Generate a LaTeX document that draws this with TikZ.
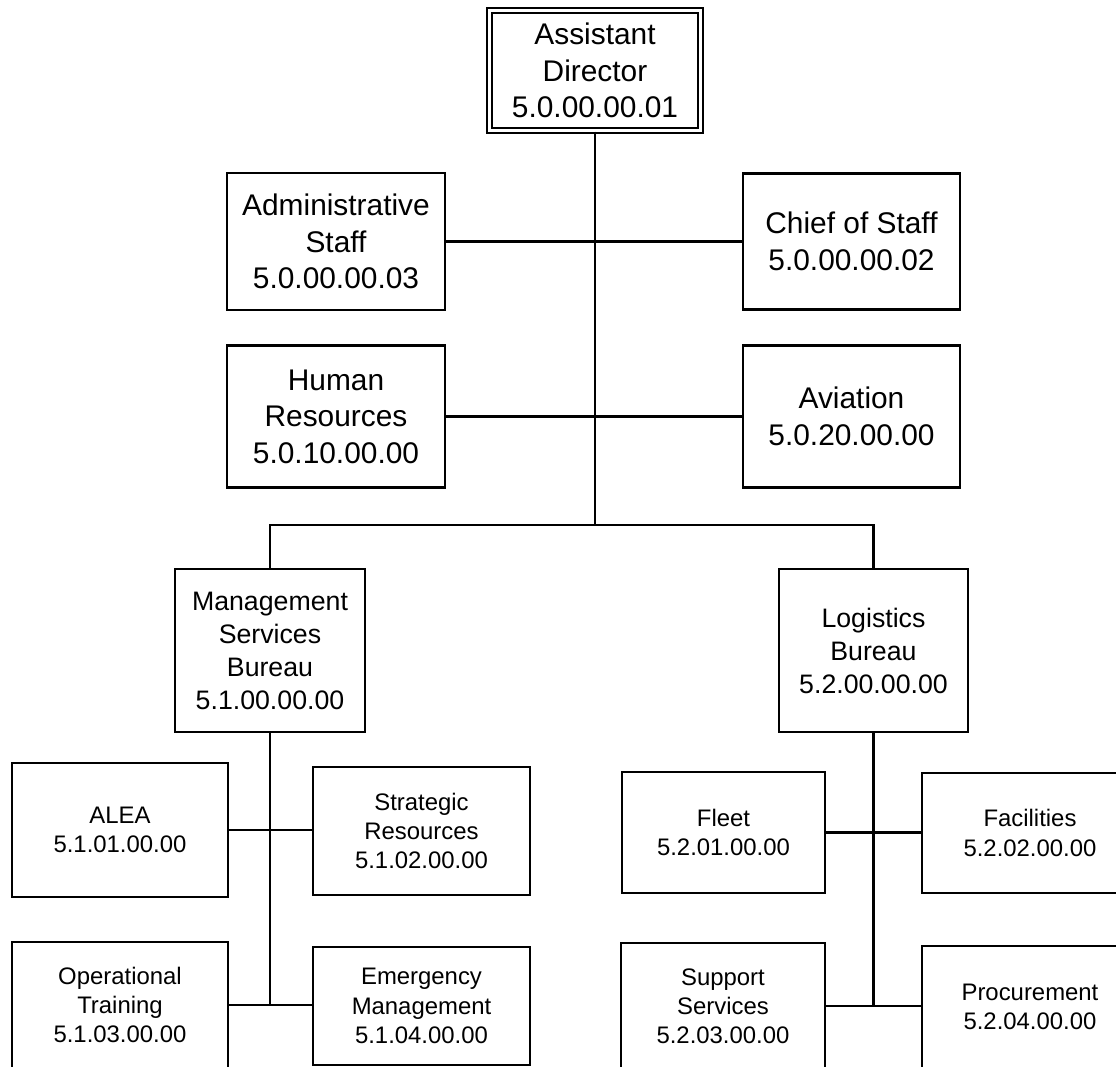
\documentclass[tikz,border=0pt]{standalone}
\usepackage{fontspec}
\setmainfont{Liberation Sans}
\tikzset{
  orgunit/.style={draw, line width=0.6pt, align=center, inner sep=0pt},
  toplevel/.style={orgunit, font=\fontsize{8.5}{10.4}\selectfont},
  bureau/.style={orgunit, font=\fontsize{7.6}{9.4}\selectfont},
  office/.style={orgunit, font=\fontsize{6.8}{8.3}\selectfont},
}
\begin{document}
\begin{tikzpicture}[y=-1cm, line width=0.6pt]
\clip (0,0) rectangle (11.16,10.67);
% top
\node[toplevel, double, double distance=0.85pt, minimum width=2.11cm, minimum height=1.20cm] (ad) at (5.95,.705) {Assistant\\Director\\5.0.00.00.01};
\node[toplevel, minimum width=2.18cm, minimum height=1.37cm] (admin) at (3.36,2.415) {Administrative\\Staff\\5.0.00.00.03};
\node[toplevel, minimum width=2.17cm, minimum height=1.36cm] (chief) at (8.515,2.415) {Chief of Staff\\5.0.00.00.02};
\node[toplevel, minimum width=2.18cm, minimum height=1.42cm] (hr) at (3.36,4.165) {Human\\Resources\\5.0.10.00.00};
\node[toplevel, minimum width=2.17cm, minimum height=1.42cm] (avi) at (8.515,4.165) {Aviation\\5.0.20.00.00};
\coordinate (bus) at (5.95,5.25);
% bureaus
\node[bureau, minimum width=1.90cm, minimum height=1.63cm] (msb) at (2.70,6.505) {Management\\Services\\Bureau\\5.1.00.00.00};
\node[bureau, minimum width=1.89cm, minimum height=1.63cm] (lb) at (8.735,6.505) {Logistics\\Bureau\\5.2.00.00.00};
% management services
\node[office, minimum width=2.16cm, minimum height=1.34cm] (alea) at (1.20,8.30) {ALEA\\5.1.01.00.00};
\node[office, minimum width=2.17cm, minimum height=1.28cm] (strat) at (4.215,8.31) {Strategic\\Resources\\5.1.02.00.00};
\node[office, minimum width=2.16cm, minimum height=1.26cm] (optr) at (1.20,10.05) {Operational\\Training\\5.1.03.00.00};
\node[office, minimum width=2.17cm, minimum height=1.18cm] (emgt) at (4.215,10.06) {Emergency\\Management\\5.1.04.00.00};
% logistics
\node[office, minimum width=2.03cm, minimum height=1.21cm] (fleet) at (7.235,8.325) {Fleet\\5.2.01.00.00};
\node[office, minimum width=2.16cm, minimum height=1.20cm] (fac) at (10.30,8.33) {Facilities\\5.2.02.00.00};
\node[office, minimum width=2.04cm, minimum height=1.26cm] (supp) at (7.23,10.06) {Support\\Services\\5.2.03.00.00};
\node[office, minimum width=2.16cm, minimum height=1.22cm] (proc) at (10.30,10.07) {Procurement\\5.2.04.00.00};
% lines
\draw (ad.south) -- (bus);
\draw (admin.east) -- (admin.east -| chief.west);
\draw (hr.east) -- (hr.east -| avi.west);
\draw (msb.north) |- (bus) -| (lb.north);
\draw (msb.south) -- (msb.south |- optr.east);
\draw (alea.east) -- (alea.east -| strat.west);
\draw (optr.east) -- (optr.east -| emgt.west);
\draw (lb.south) -- (lb.south |- proc.west);
\draw (fleet.east) -- (fleet.east -| fac.west);
\draw (supp.east) -- (supp.east -| proc.west);
\end{tikzpicture}
\end{document}
